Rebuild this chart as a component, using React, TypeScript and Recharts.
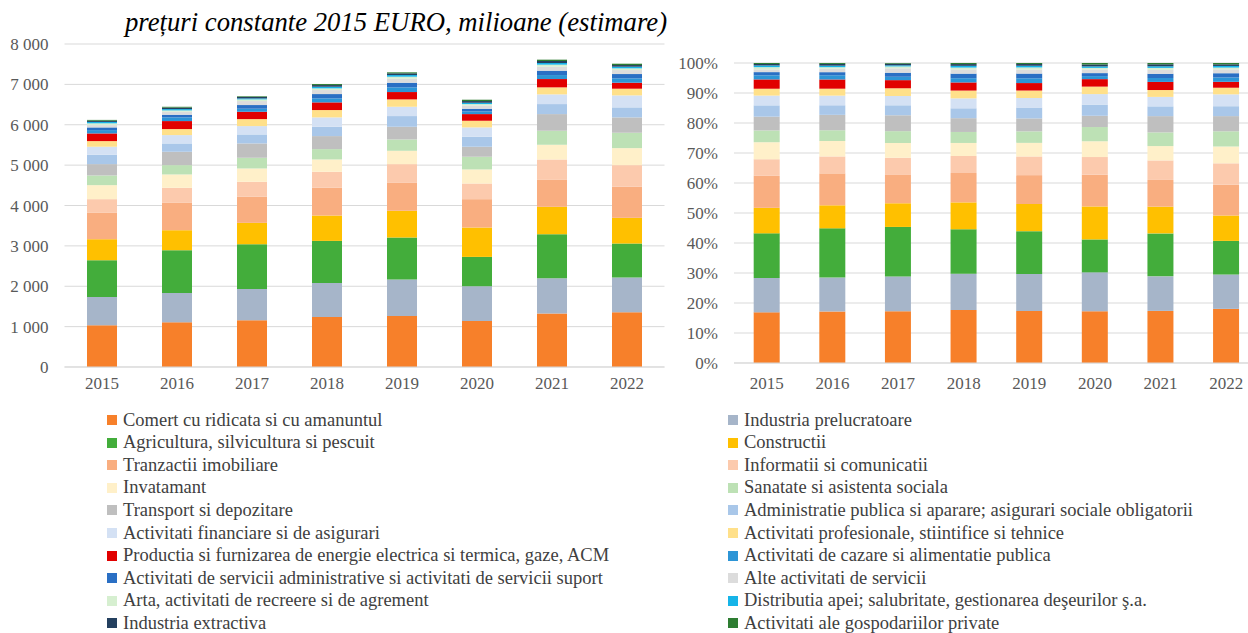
import React from "react";
import { BarChart, Bar, XAxis, YAxis, CartesianGrid } from "recharts";

const years = ["2015", "2016", "2017", "2018", "2019", "2020", "2021", "2022"];

// milioane EURO, preturi constante 2015
const comert = [1033, 1107, 1157, 1240, 1264, 1140, 1322, 1355];
const prelucratoare = [703, 728, 777, 843, 901, 860, 876, 860];
const agricultura = [909, 1058, 1107, 1041, 1042, 727, 1091, 843];
const constructii = [520, 495, 529, 628, 661, 728, 678, 636];
const imobiliare = [653, 686, 645, 686, 702, 702, 678, 769];
const informatii = [339, 364, 372, 397, 455, 388, 495, 537];
const invatamant = [347, 331, 330, 305, 330, 348, 364, 421];
const sanatate = [240, 231, 265, 257, 281, 314, 347, 381];
const transport = [281, 331, 355, 322, 314, 248, 413, 380];
const administratie = [231, 206, 223, 231, 265, 247, 248, 248];
const financiare = [199, 207, 207, 232, 231, 232, 240, 297];
const profesionale = [140, 149, 173, 182, 182, 165, 174, 166];
const energie = [190, 198, 182, 190, 182, 165, 206, 148];
const cazare = [83, 91, 75, 99, 116, 67, 99, 108];
const serviciiAdmin = [66, 66, 91, 107, 115, 66, 108, 107];
const alteServicii = [58, 74, 99, 100, 99, 82, 99, 99];
const arta = [43, 33, 41, 41, 50, 33, 50, 42];
const apa = [35, 33, 25, 41, 41, 33, 41, 41];
const extractiva = [30, 37, 37, 41, 42, 42, 50, 41];
const gospodarii = [20, 20, 15, 25, 25, 33, 33, 33];

const leftTicks = [0, 1000, 2000, 3000, 4000, 5000, 6000, 7000, 8000];
const rightTicks = [0, 0.1, 0.2, 0.3, 0.4, 0.5, 0.6, 0.7, 0.8, 0.9, 1];

const series = [
  { key: "comert", name: "Comert cu ridicata si cu amanuntul", color: "#F7802A", values: comert },
  { key: "prelucratoare", name: "Industria prelucratoare", color: "#A6B5C9", values: prelucratoare },
  { key: "agricultura", name: "Agricultura, silvicultura si pescuit", color: "#43AD3B", values: agricultura },
  { key: "constructii", name: "Constructii", color: "#FFC000", values: constructii },
  { key: "imobiliare", name: "Tranzactii imobiliare", color: "#F9AE80", values: imobiliare },
  { key: "informatii", name: "Informatii si comunicatii", color: "#FCCAAD", values: informatii },
  { key: "invatamant", name: "Invatamant", color: "#FFF0C9", values: invatamant },
  { key: "sanatate", name: "Sanatate si asistenta sociala", color: "#BDE1B5", values: sanatate },
  { key: "transport", name: "Transport si depozitare", color: "#BFBFBF", values: transport },
  { key: "administratie", name: "Administratie publica si aparare; asigurari sociale obligatorii", color: "#A9C7E9", values: administratie },
  { key: "financiare", name: "Activitati financiare si de asigurari", color: "#D4E1F4", values: financiare },
  { key: "profesionale", name: "Activitati profesionale, stiintifice si tehnice", color: "#FFE08A", values: profesionale },
  { key: "energie", name: "Productia si furnizarea de energie electrica si termica, gaze, ACM", color: "#E10000", values: energie },
  { key: "cazare", name: "Activitati de cazare si alimentatie publica", color: "#2D95D6", values: cazare },
  { key: "serviciiAdmin", name: "Activitati de servicii administrative si activitati de servicii suport", color: "#2A6FC4", values: serviciiAdmin },
  { key: "alteServicii", name: "Alte activitati de servicii", color: "#DCDCDC", values: alteServicii },
  { key: "arta", name: "Arta, activitati de recreere si de agrement", color: "#D6EFD0", values: arta },
  { key: "apa", name: "Distributia apei; salubritate, gestionarea deşeurilor ş.a.", color: "#16B4E8", values: apa },
  { key: "extractiva", name: "Industria extractiva", color: "#24405F", values: extractiva },
  { key: "gospodarii", name: "Activitati ale gospodariilor private", color: "#2E7D32", values: gospodarii },
];

const data = years.map((year, i) => {
  const row: Record<string, string | number> = { year };
  series.forEach((s) => {
    row[s.key] = s.values[i];
  });
  return row;
});

const font = "'Liberation Serif', 'Times New Roman', serif";
const tickStyle = { fill: "#595959", fontSize: 17, fontFamily: font };

const fmtThousands = (v: number) =>
  v >= 1000 ? `${Math.floor(v / 1000)} ${String(v % 1000).padStart(3, "0")}` : String(v);

function Bars() {
  return (
    <>
      {series.map((s) => (
        <Bar
          key={s.key}
          dataKey={s.key}
          name={s.name}
          stackId="a"
          fill={s.color}
          isAnimationActive={false}
        />
      ))}
    </>
  );
}

function LegendColumn({ items, left }: { items: typeof series; left: number }) {
  return (
    <div style={{ position: "absolute", left, top: 409 }}>
      {items.map((s) => (
        <div
          key={s.key}
          style={{
            display: "flex",
            alignItems: "center",
            height: 22.55,
            fontSize: 18.5,
            color: "#404040",
            whiteSpace: "nowrap",
          }}
        >
          <span
            style={{
              display: "inline-block",
              width: 10,
              height: 10,
              background: s.color,
              marginRight: 6,
            }}
          />
          {s.name}
        </div>
      ))}
    </div>
  );
}

export default function App() {
  return (
    <div
      style={{
        position: "absolute",
        left: 0,
        top: 0,
        width: 1248,
        height: 633,
        overflow: "hidden",
        background: "#fff",
        fontFamily: font,
      }}
    >
      <div
        style={{
          position: "absolute",
          left: 125,
          top: 8,
          fontSize: 26.7,
          lineHeight: "28px",
          fontStyle: "italic",
          color: "#000",
          whiteSpace: "nowrap",
        }}
      >
        prețuri constante 2015 EURO, milioane (estimare)
      </div>

      <div style={{ position: "absolute", left: 0, top: 0 }}>
        <BarChart
          width={680}
          height={400}
          data={data}
          barCategoryGap="30%"
          margin={{ top: 44, right: 15.5, left: 0, bottom: 0 }}
        >
          <CartesianGrid vertical={false} stroke="#D9D9D9" />
          <XAxis
            dataKey="year"
            height={33}
            axisLine={{ stroke: "#D9D9D9" }}
            tickLine={false}
            tick={tickStyle}
            tickMargin={4}
          />
          <YAxis
            width={64.5}
            domain={[0, 8000]}
            ticks={leftTicks}
            axisLine={false}
            tickLine={false}
            tick={tickStyle}
            tickMargin={10}
            tickFormatter={fmtThousands}
          />
          {Bars()}
        </BarChart>
      </div>

      <div style={{ position: "absolute", left: 670, top: 0 }}>
        <BarChart
          width={600}
          height={400}
          data={data}
          stackOffset="expand"
          barCategoryGap="30%"
          margin={{ top: 63, right: 11, left: 0, bottom: 0 }}
        >
          <CartesianGrid vertical={false} stroke="#D9D9D9" />
          <XAxis
            dataKey="year"
            height={37}
            axisLine={{ stroke: "#D9D9D9" }}
            tickLine={false}
            tick={tickStyle}
            tickMargin={8}
          />
          <YAxis
            width={64}
            domain={[0, 1]}
            ticks={rightTicks}
            axisLine={false}
            tickLine={false}
            tick={tickStyle}
            tickMargin={10}
            tickFormatter={(v: number) => `${Math.round(v * 100)}%`}
          />
          {Bars()}
        </BarChart>
      </div>

      <LegendColumn items={series.filter((_, i) => i % 2 === 0)} left={107} />
      <LegendColumn items={series.filter((_, i) => i % 2 === 1)} left={728} />
    </div>
  );
}
